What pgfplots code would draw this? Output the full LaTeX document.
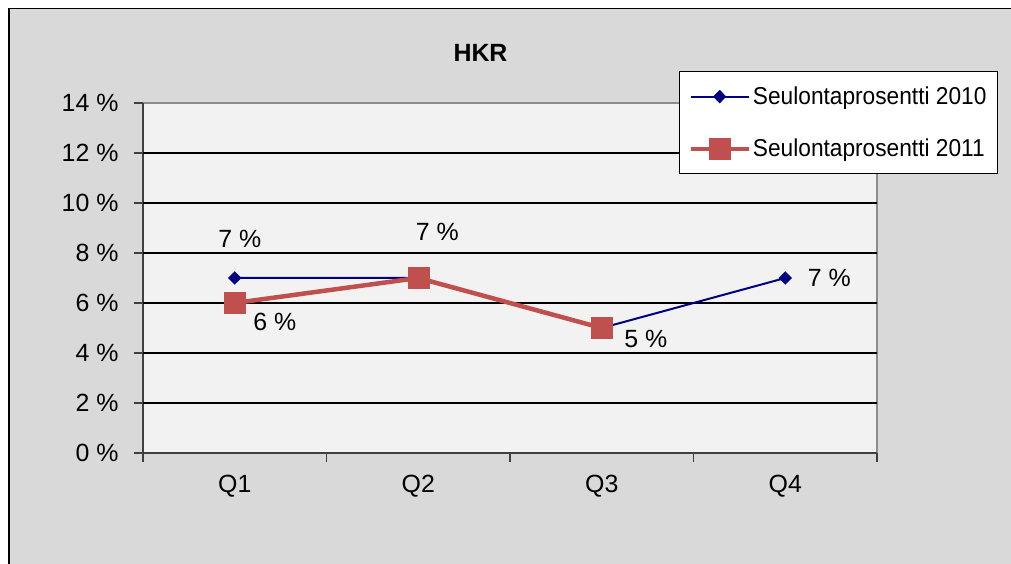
\documentclass[border=0pt]{standalone}
\usepackage{pgfplots}
\pgfplotsset{compat=1.18}
\usepackage{fontspec}
\setmainfont{Liberation Sans}
\newfontfamily\legfont{Liberation Sans}[FakeStretch=0.93]
\definecolor{chartbg}{HTML}{D9D9D9}
\definecolor{plotbg}{HTML}{F2F2F2}
\definecolor{navyser}{HTML}{000080}
\definecolor{redser}{HTML}{C0504D}
\definecolor{gridc}{HTML}{404040}
\begin{document}
\begin{tikzpicture}[font=\fontsize{25}{29}\selectfont]
\useasboundingbox (0,0) rectangle (1011bp,564bp);
\fill[white] (0,0) rectangle (1011bp,564bp);
\draw[fill=chartbg, draw=black, line width=1.5bp] (9bp,-20bp) rectangle (1040bp,555.5bp);
\node[font=\fontsize{25}{29}\selectfont\bfseries] at (480.5bp, 511bp) {HKR};
\begin{axis}[
  at={(143bp,111bp)}, anchor=south west,
  scale only axis, width=734bp, height=350bp,
  xmin=0.5, xmax=4.5, ymin=0, ymax=14,
  clip=false,
  axis background/.style={fill=plotbg, draw=gray!90, line width=1.5bp},
  axis x line*=bottom, axis y line*=left,
  axis line style={gridc, line width=1.5bp, -},
  xtick={0.5,1.5,2.5,3.5,4.5}, xticklabels={},
  extra x ticks={1,2,3,4},
  extra x tick labels={Q1,Q2,Q3,Q4},
  extra x tick style={major tick length=0pt, xticklabel style={yshift=-19bp}},
  ytick={0,2,4,6,8,10,12,14},
  yticklabels={0 \%,2 \%,4 \%,6 \%,8 \%,10 \%,12 \%,14 \%},
  yticklabel style={xshift=-12bp},
  tick align=outside, major tick length=9bp,
  tick style={gridc, line width=1.2bp},
  every tick label/.append style={font=\fontsize{25}{29}\selectfont, text=black},
  extra y ticks={2,4,6,8,10,12}, extra y tick labels={},
  extra y tick style={ymajorgrids=true, major tick length=0pt},
  major grid style={black, line width=1.2bp},
  legend style={at={(0.7302,1.0914)}, anchor=north west, draw=black, line width=1bp, fill=white,
    font=\legfont\fontsize{24.5}{28}\selectfont, row sep=29bp, inner xsep=9bp, inner ysep=13.5bp,
    nodes={inner sep=2bp}},
  legend cell align=left,
  legend image code/.code={\draw[mark repeat=2, mark phase=2] plot coordinates {(0bp,0bp) (29bp,0bp) (58bp,0bp)};},
]
\addplot[navyser, line width=2bp, mark=diamond*, mark size=6.5bp, mark options={xscale=1.3, line width=0.3bp}] coordinates {(1,7) (2,7) (3,5) (4,7)};
\addlegendentry{Seulontaprosentti 2010}
\addplot[redser, line width=4.5bp, mark=square*, mark size=10.5bp, mark options={line width=0.5bp}] coordinates {(1,6) (2,7) (3,5)};
\addlegendentry{Seulontaprosentti 2011}
\node[xshift=5bp, yshift=39bp] at (axis cs:1,7) {7 \%};
\node[xshift=40bp, yshift=-19bp] at (axis cs:1,6) {6 \%};
\node[xshift=19bp, yshift=46bp] at (axis cs:2,7) {7 \%};
\node[xshift=44bp, yshift=-11bp] at (axis cs:3,5) {5 \%};
\node[xshift=44bp, yshift=0bp] at (axis cs:4,7) {7 \%};
\end{axis}
\end{tikzpicture}
\end{document}
